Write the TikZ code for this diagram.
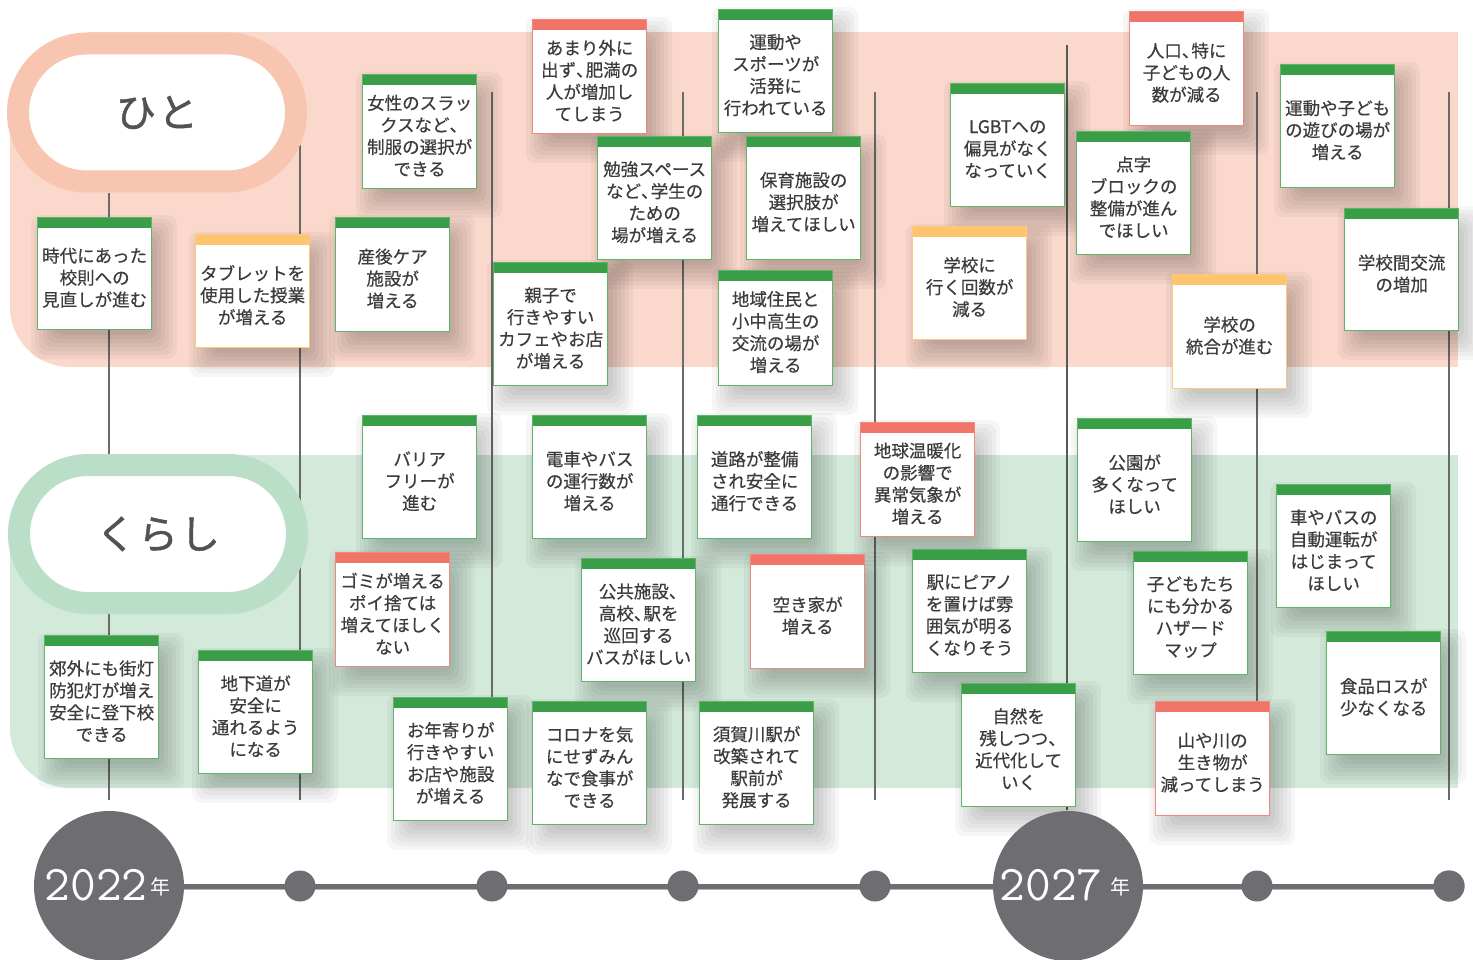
\documentclass[tikz,border=0pt]{standalone}
\usepackage{fontspec}
\newfontfamily\jp[FakeBold=0.5]{Noto Sans CJK JP}
\newfontfamily\jpbig[FakeBold=1.2]{Noto Sans CJK JP}
\newfontfamily\jpyear{Noto Sans CJK JP}
\usetikzlibrary{shapes.misc}
\definecolor{bandpink}{HTML}{FAD8CB}
\definecolor{ringpink}{HTML}{F8C5B1}
\definecolor{bandgreen}{HTML}{D3E9DA}
\definecolor{ringgreen}{HTML}{BBDEC8}
\definecolor{grbar}{HTML}{3A9E48}
\definecolor{grline}{HTML}{5DB565}
\definecolor{orbar}{HTML}{FFC46E}
\definecolor{orline}{HTML}{FFC87A}
\definecolor{rdbar}{HTML}{F07468}
\definecolor{rdline}{HTML}{F2877C}
\definecolor{tlgray}{HTML}{6E6D72}
\definecolor{txt}{HTML}{3C3C3C}
\definecolor{vlgray}{HTML}{6A6A6A}
\tikzset{
  note/.style={rectangle, fill=white, line width=1.3pt, minimum width=114pt, inner sep=0pt, anchor=north west},
  topbar/.style={path picture={\fill[#1] (path picture bounding box.north west) rectangle ([yshift=-10pt]path picture bounding box.north east);}},
  ng/.style={note, draw=grline, topbar=grbar},
  no/.style={note, draw=orline, topbar=orbar},
  nr/.style={note, draw=rdline, topbar=rdbar},
  notetext/.style={align=center, text=txt, font=\jp\fontsize{17.5}{22}\selectfont, inner sep=0pt},
  softshadow/.style={fill=black, opacity=0.035, rounded corners=9pt},
  vline/.style={draw=vlgray, line width=1.3pt},
  pill/.style={rounded rectangle, fill=white, line width=22pt, inner sep=0pt, minimum width=278pt, minimum height=138pt,
    text=black!68, font=\jpbig\fontsize{40}{44}\selectfont},
  dot/.style={circle, fill=tlgray, minimum size=31pt, inner sep=0pt},
  yearc/.style={circle, fill=tlgray, minimum size=150pt, inner sep=0pt},
  yeartxt/.style={text=white, inner sep=0pt, font=\ttfamily\fontsize{50}{50}\selectfont},
  nentxt/.style={text=white, inner sep=0pt, font=\jpyear\fontsize{20}{20}\selectfont},
}
\newcommand\tc{\makebox[0.55em][l]{、}}
\newcommand\mkshadow[3]{%
  \foreach \s in {-8,-4,0,4,8,12,16} {%
    \fill[softshadow] ({#1+10-\s},{#2+14-\s}) rectangle ({#1+124+\s},{#2+#3+14+\s});
  }%
}
\newcommand\mknote[6]{%
  \node[#2, minimum height=#5pt] (#1) at (#3,#4) {};
  \node[notetext] (#1t) at ([yshift=-4pt]#1.center) {#6};
}
\begin{document}
\begin{tikzpicture}[x=1pt,y=-1pt]
\useasboundingbox (0,0) rectangle (1473,960);
% bands
\fill[bandpink] (87,32) rectangle (1458,367);
\fill[bandpink, rounded corners=60pt] (10,113) rectangle (700,367);
\fill[bandpink] (10,113) rectangle (200,250);
\fill[bandgreen] (87,455) rectangle (1458,788);
\fill[bandgreen, rounded corners=60pt] (10,535) rectangle (700,788);
\fill[bandgreen] (10,535) rectangle (200,680);
% vertical lines
\coordinate (v0a) at (109,193);  \coordinate (v0b) at (109,800);
\coordinate (v1a) at (300,145);  \coordinate (v1b) at (300,800);
\coordinate (v2a) at (492,92);   \coordinate (v2b) at (492,800);
\coordinate (v3a) at (683,92);   \coordinate (v3b) at (683,800);
\coordinate (v4a) at (875,92);   \coordinate (v4b) at (875,800);
\coordinate (v5a) at (1067,45);  \coordinate (v5b) at (1067,810);
\coordinate (v6a) at (1257,92);  \coordinate (v6b) at (1257,800);
\coordinate (v7a) at (1449,92);  \coordinate (v7b) at (1449,800);
\draw[vline] (v0a) -- (v0b);
\draw[vline] (v1a) -- (v1b);
\draw[vline] (v2a) -- (v2b);
\draw[vline] (v3a) -- (v3b);
\draw[vline] (v4a) -- (v4b);
\draw[vline, line width=2.6pt, draw=black!65] (v5a) -- (v5b);
\draw[vline] (v6a) -- (v6b);
\draw[vline] (v7a) -- (v7b);
% pills
\node[pill, draw=ringpink] (hito) at (157,112.5) {ひ\hspace{2pt}と};
\node[pill, draw=ringgreen] (kurashi) at (158,534) {く\hspace{2pt}ら\hspace{2pt}し};
% shadows
\mkshadow{37}{217}{112}
\mkshadow{195}{234}{113}
\mkshadow{362}{74}{114}
\mkshadow{335}{217}{114}
\mkshadow{532}{19}{114}
\mkshadow{718}{9}{123}
\mkshadow{597}{136}{123}
\mkshadow{746}{136}{123}
\mkshadow{493}{262}{123}
\mkshadow{718}{270}{115}
\mkshadow{950}{83}{123}
\mkshadow{912}{226}{113}
\mkshadow{1129}{11}{114}
\mkshadow{1076}{131}{123}
\mkshadow{1280}{64}{123}
\mkshadow{1172}{274}{114}
\mkshadow{1344}{208}{122}
\mkshadow{362}{415}{123}
\mkshadow{335}{552}{114}
\mkshadow{44}{635}{123}
\mkshadow{198}{650}{123}
\mkshadow{393}{697}{123}
\mkshadow{532}{415}{123}
\mkshadow{697}{415}{123}
\mkshadow{581}{558}{123}
\mkshadow{750}{554}{114}
\mkshadow{860}{422}{114}
\mkshadow{532}{701}{123}
\mkshadow{699}{701}{123}
\mkshadow{912}{549}{123}
\mkshadow{961}{683}{123}
\mkshadow{1077}{418}{123}
\mkshadow{1133}{551}{123}
\mkshadow{1155}{701}{114}
\mkshadow{1276}{484}{123}
\mkshadow{1326}{631}{123}
% notes: hito
\mknote{b1}{ng}{37}{217}{112}{時代にあった\\校則への\\見直しが進む}
\mknote{b2}{no}{195}{234}{113}{タブレットを\\使用した授業\\が増える}
\mknote{b3}{ng}{362}{74}{114}{女性のスラッ\\クスなど\tc\\制服の選択が\\できる}
\mknote{b4}{ng}{335}{217}{114}{産後ケア\\施設が\\増える}
\mknote{b5}{nr}{532}{19}{114}{あまり外に\\出ず\tc 肥満の\\人が増加し\\てしまう}
\mknote{b6}{ng}{718}{9}{123}{運動や\\スポーツが\\活発に\\行われている}
\mknote{b7}{ng}{597}{136}{123}{勉強スペース\\など\tc 学生の\\ための\\場が増える}
\mknote{b8}{ng}{746}{136}{123}{保育施設の\\選択肢が\\増えてほしい}
\mknote{b9}{ng}{493}{262}{123}{親子で\\行きやすい\\カフェやお店\\が増える}
\mknote{b10}{ng}{718}{270}{115}{地域住民と\\小中高生の\\交流の場が\\増える}
\mknote{b11}{ng}{950}{83}{123}{LGBTへの\\偏見がなく\\なっていく}
\mknote{b12}{no}{912}{226}{113}{学校に\\行く回数が\\減る}
\mknote{b13}{nr}{1129}{11}{114}{人口\tc 特に\\子どもの人\\数が減る}
\mknote{b14}{ng}{1076}{131}{123}{点字\\ブロックの\\整備が進ん\\でほしい}
\mknote{b15}{ng}{1280}{64}{123}{運動や子ども\\の遊びの場が\\増える}
\mknote{b16}{no}{1172}{274}{114}{学校の\\統合が進む}
\mknote{b17}{ng}{1344}{208}{122}{学校間交流\\の増加}
% notes: kurashi
\mknote{b18}{ng}{362}{415}{123}{バリア\\フリーが\\進む}
\mknote{b19}{nr}{335}{552}{114}{ゴミが増える\\ポイ捨ては\\増えてほしく\\ない}
\mknote{b20}{ng}{44}{635}{123}{郊外にも街灯\\防犯灯が増え\\安全に登下校\\できる}
\mknote{b21}{ng}{198}{650}{123}{地下道が\\安全に\\通れるよう\\になる}
\mknote{b22}{ng}{393}{697}{123}{お年寄りが\\行きやすい\\お店や施設\\が増える}
\mknote{b23}{ng}{532}{415}{123}{電車やバス\\の運行数が\\増える}
\mknote{b24}{ng}{697}{415}{123}{道路が整備\\され安全に\\通行できる}
\mknote{b25}{ng}{581}{558}{123}{公共施設\tc\\高校\tc 駅を\\巡回する\\バスがほしい}
\mknote{b26}{nr}{750}{554}{114}{空き家が\\増える}
\mknote{b27}{nr}{860}{422}{114}{地球温暖化\\の影響で\\異常気象が\\増える}
\mknote{b28}{ng}{532}{701}{123}{コロナを気\\にせずみん\\なで食事が\\できる}
\mknote{b29}{ng}{699}{701}{123}{須賀川駅が\\改築されて\\駅前が\\発展する}
\mknote{b30}{ng}{912}{549}{123}{駅にピアノ\\を置けば雰\\囲気が明る\\くなりそう}
\mknote{b31}{ng}{961}{683}{123}{自然を\\残しつつ\tc\\近代化して\\いく}
\mknote{b32}{ng}{1077}{418}{123}{公園が\\多くなって\\ほしい}
\mknote{b33}{ng}{1133}{551}{123}{子どもたち\\にも分かる\\ハザード\\マップ}
\mknote{b34}{nr}{1155}{701}{114}{山や川の\\生き物が\\減ってしまう}
\mknote{b35}{ng}{1276}{484}{123}{車やバスの\\自動運転が\\はじまって\\ほしい}
\mknote{b36}{ng}{1326}{631}{123}{食品ロスが\\少なくなる}
% timeline
\node[yearc] (y2022) at (109,886) {};
\node[dot] (d6) at (1449,886) {};
\draw[line width=2.5pt, black!30] ([yshift=-3pt]y2022.east) -- ([yshift=-3pt]d6.center);
\draw[line width=5pt, tlgray] (y2022.east) -- (d6.center);
\node[yearc] (y2027) at (1068,886) {};
\node[dot] (d1) at (300,886) {};
\node[dot] (d2) at (492,886) {};
\node[dot] (d3) at (683,886) {};
\node[dot] (d4) at (875,886) {};
\node[dot] (d5) at (1257,886) {};
\node[dot] (d6b) at (1449,886) {};
\node[yeartxt] (t2022) at (96,885) {2022};
\node[nentxt] (n2022) at (160,887) {年};
\node[yeartxt] (t2027) at (1051,885) {2027};
\node[nentxt] (n2027) at (1120,887) {年};
\end{tikzpicture}
\end{document}
